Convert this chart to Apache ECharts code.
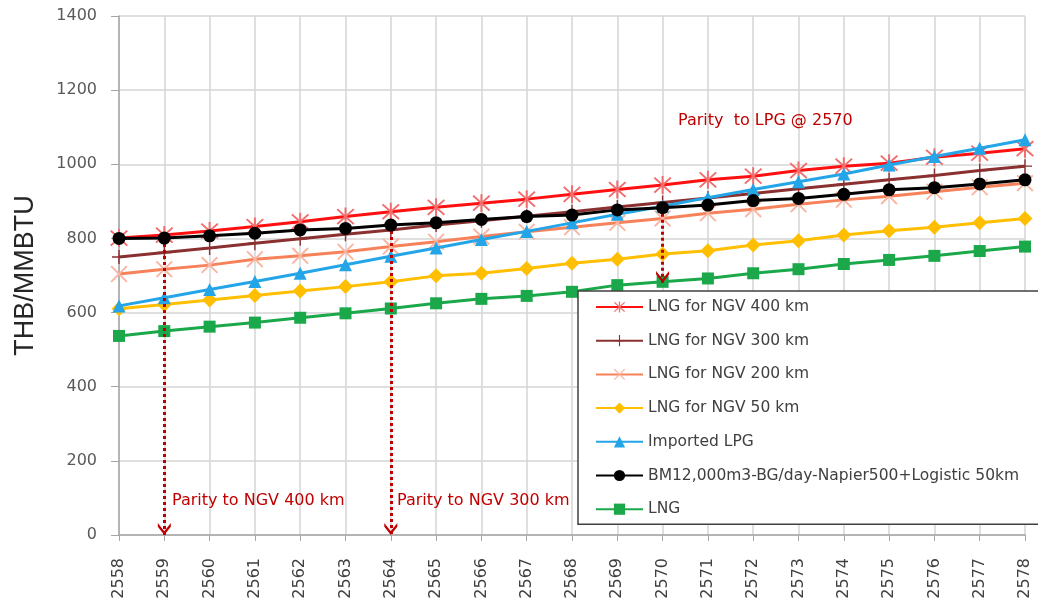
<!DOCTYPE html>
<html><head><meta charset="utf-8">
<script src="https://cdn.jsdelivr.net/npm/echarts@6/dist/echarts.min.js"></script>
<style>html,body{margin:0;padding:0;background:#fff}#c{width:1038px;height:603px}</style>
</head><body><div id="c"></div>
<script>
const years = ['2558','2559','2560','2561','2562','2563','2564','2565','2566','2567','2568','2569','2570','2571','2572','2573','2574','2575','2576','2577','2578'];
const lng400 = [801,809,820,832,845,859,872,884,895,906,919,932,944,958,968,983,995,1003,1019,1030,1042];
const lng300 = [750,762,774,787,799,811,823,836,848,860,872,885,897,909,921,934,946,958,970,983,995];
const lng200 = [704,717,728,744,753,764,778,791,805,818,830,842,854,868,879,892,904,914,926,938,949];
const lng50  = [610,622,634,646,658,670,683,699,706,719,733,744,758,767,782,794,809,821,830,842,854];
const lpg    = [618,640,662,684,706,729,752,774,797,819,842,865,887,910,932,953,974,998,1021,1043,1066];
const bm     = [800,801,807,814,823,827,836,842,851,859,863,877,883,890,902,908,919,931,937,947,958];
const lng    = [537,550,562,573,586,598,611,625,637,645,656,674,683,692,706,717,731,742,753,766,778];
const yTicks = [0,200,400,600,800,1000,1200,1400];
const arrowYears = ['2559','2564','2570'];
const arrowTo = [0, 0, 680];
const names = ['LNG for NGV 400 km','LNG for NGV 300 km','LNG for NGV 200 km','LNG for NGV 50 km','Imported LPG','BM12,000m3-BG/day-Napier500+Logistic 50km','LNG'];
const notes = ['Parity  to LPG @ 2570','Parity to NGV 400 km','Parity to NGV 300 km'];

const starPath = 'path://M9,0L11,0L11,20L9,20Z M1,2.4L2.4,1L19,17.6L17.6,19Z M17.6,1L19,2.4L2.4,19L1,17.6Z';
const plusPath = 'path://M9,0L11,0L11,20L9,20Z M0,9L20,9L20,11L0,11Z';
const xPath = 'path://M1,2.4L2.4,1L19,17.6L17.6,19Z M17.6,1L19,2.4L2.4,19L1,17.6Z';
// chevron whose tip sits at the symbol centre (tiny dot balances the bounding box)
const chevron = 'path://M0,8L5,0L10,8L10,11.5L5,3.5L0,11.5Z M5,-11.5L5.02,-11.5L5,-11.48Z';

const font = 'DejaVu Sans';
function ser(name, data, color, symbol, size, symColor, z) {
  return {
    name, type: 'line', data, symbol, symbolSize: size, z: z,
    lineStyle: { color, width: 3 },
    itemStyle: { color: symColor || color, borderWidth: 0 },
    emphasis: { disabled: true }, animation: false
  };
}
const arrowData = arrowYears.map((y, i) => [
  { coord: [y, bm[years.indexOf(y)]] },
  { coord: [y, arrowTo[i]] }
]);
const bmSeries = ser(names[5], bm, '#000000', 'circle', 13, '#000000', 6);
bmSeries.markLine = {
  silent: true, symbol: ['none', chevron], symbolSize: [13, 24],
  lineStyle: { color: '#c00000', width: 3, type: [3, 3] },
  label: { show: false }, animation: false, data: arrowData
};

const chart = echarts.init(document.getElementById('c'));
chart.setOption({
  animation: false,
  backgroundColor: '#fff',
  grid: { left: 119, right: 13, top: 16, bottom: 68, containLabel: false },
  xAxis: {
    type: 'category', data: years, boundaryGap: false,
    axisLine: { lineStyle: { color: '#a6a6a6', width: 1.5 } },
    axisTick: { show: true, length: 6, alignWithLabel: true, lineStyle: { color: '#a6a6a6' } },
    axisLabel: { rotate: 90, fontFamily: font, fontSize: 16, color: '#404040', margin: 23, interval: 0 },
    splitLine: { show: true, lineStyle: { color: '#d4d4d4', width: 1.5 } }
  },
  yAxis: {
    type: 'value', min: 0, max: 1400, interval: 200,
    name: 'THB/MMBTU', nameLocation: 'middle', nameGap: 80,
    nameTextStyle: { fontFamily: 'Liberation Sans', fontSize: 27, color: '#262626' },
    axisLine: { show: true, lineStyle: { color: '#a6a6a6', width: 1.5 } },
    axisTick: { show: true, length: 8, lineStyle: { color: '#a6a6a6' } },
    axisLabel: { fontFamily: font, fontSize: 16, color: '#595959', margin: 22,
      formatter: v => yTicks.includes(v) ? String(v) : '' },
    splitLine: { show: true, lineStyle: { color: '#d4d4d4', width: 1.5 } }
  },
  legend: {
    orient: 'vertical', left: 578, top: 291,
    padding: [8, 80, 7, 17], itemGap: 17.7, itemWidth: 47, itemHeight: 14,
    backgroundColor: '#fff', borderColor: '#404040', borderWidth: 1.5, borderRadius: 0,
    textStyle: { fontFamily: font, fontSize: 15.5, color: '#404040' },
    data: names, selectedMode: false
  },
  series: [
    ser(names[0], lng400, '#ff1010', starPath, 18, '#f26d6d', 3),
    ser(names[1], lng300, '#8b3030', plusPath, 14, '#8b3030', 2),
    ser(names[2], lng200, '#f7825a', xPath, 17, '#fab4a0', 2),
    ser(names[3], lng50, '#ffbf00', 'diamond', 15, '#ffbf00', 2),
    ser(names[4], lpg, '#24a5e8', 'triangle', 13, '#24a5e8', 4),
    bmSeries,
    ser(names[6], lng, '#1aa84a', 'rect', 12, '#1aa84a', 2)
  ],
  graphic: [
    { type: 'text', left: 678, top: 113, z: 10, style: { text: notes[0], fill: '#c00000', font: '16px "DejaVu Sans"' } },
    { type: 'text', left: 172, top: 493, z: 10, style: { text: notes[1], fill: '#c00000', font: '16px "DejaVu Sans"' } },
    { type: 'text', left: 397, top: 493, z: 10, style: { text: notes[2], fill: '#c00000', font: '16px "DejaVu Sans"' } }
  ]
});
</script></body></html>
